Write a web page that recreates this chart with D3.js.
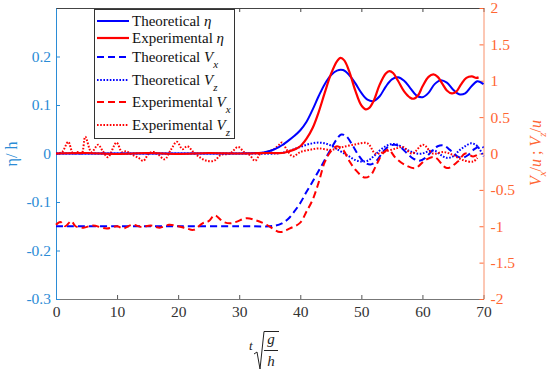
<!DOCTYPE html>
<html>
<head>
<meta charset="utf-8">
<script src="https://cdn.jsdelivr.net/npm/d3@7"></script>
<style>
  body { margin: 0; background: #fff; }
  svg, svg text, svg tspan { font-family: "Liberation Serif", Tinos, "Times New Roman", Times, "DejaVu Serif", serif !important; }
</style>
</head>
<body>
<svg id="chart" width="550" height="372"></svg>
<script>
// ---- data ----
const xTicks = [0, 10, 20, 30, 40, 50, 60, 70];
const leftTicks = [-0.3, -0.2, -0.1, 0, 0.1, 0.2];
const rightTicks = [-2, -1.5, -1, -0.5, 0, 0.5, 1, 1.5, 2];

// theoretical eta (left axis)
const theoEtaT = [0, 10, 20, 30, 33, 34, 35, 36, 37, 38, 39, 40, 41, 42, 43, 44, 45, 46, 47, 48, 49, 50, 51, 52, 53, 54, 55, 56, 57, 58, 59, 60, 61, 62, 63, 64, 65, 66, 67, 68, 69, 70];
const theoEta = [0, 0, 0, 0, 0.001, 0.002, 0.005, 0.01, 0.017, 0.026, 0.036, 0.048, 0.065, 0.09, 0.118, 0.143, 0.161, 0.171, 0.172, 0.162, 0.145, 0.125, 0.111, 0.108, 0.118, 0.138, 0.153, 0.157, 0.15, 0.135, 0.12, 0.116, 0.125, 0.143, 0.151, 0.146, 0.132, 0.122, 0.124, 0.138, 0.149, 0.143];

// experimental eta (left axis)
const expEtaT = [0, 5, 10, 15, 20, 25, 30, 35, 37, 38, 39, 40, 41, 42, 43, 44, 45, 46, 46.6, 47.2, 48, 49, 50, 50.7, 51.3, 52, 53, 54, 54.6, 55.2, 56, 57, 58, 58.6, 59.3, 60, 61, 61.8, 62.5, 63.3, 64, 64.8, 65.5, 66.3, 67.2, 68.1, 68.8, 69.2];
const expEta = [0, 0.001, -0.001, 0.001, -0.001, 0.001, 0, 0.001, 0.001, 0.004, 0.008, 0.015, 0.03, 0.052, 0.085, 0.125, 0.163, 0.19, 0.197, 0.192, 0.17, 0.13, 0.099, 0.091, 0.094, 0.108, 0.142, 0.165, 0.17, 0.166, 0.15, 0.128, 0.115, 0.113, 0.12, 0.138, 0.158, 0.163, 0.158, 0.143, 0.13, 0.124, 0.127, 0.142, 0.156, 0.159, 0.156, 0.157];

// theoretical Vx/u (right axis)
const theoVxT = [0, 10, 20, 30, 35, 36, 37, 38, 39, 40, 41, 42, 43, 44, 45, 46, 46.7, 47.5, 48.5, 49.5, 50.5, 51.5, 52.5, 53.5, 54.5, 55.5, 56.5, 57.5, 58.5, 59.5, 60.5, 61.5, 62.5, 63.5, 64.5, 65.5, 66.5, 67.5, 68.5, 69.5, 70];
const theoVx = [-1, -1, -1, -1, -1, -0.99, -0.96, -0.9, -0.8, -0.68, -0.53, -0.39, -0.24, -0.09, 0.06, 0.2, 0.26, 0.24, 0.12, -0.02, -0.12, -0.15, -0.1, 0.02, 0.1, 0.12, 0.08, 0, -0.07, -0.1, -0.06, 0.03, 0.1, 0.11, 0.05, -0.03, -0.06, -0.02, 0.06, 0.1, 0.08];

// theoretical Vz/u (right axis)
const theoVzT = [0, 10, 20, 30, 36, 37, 38, 39, 40, 41, 42, 43, 44, 45, 46, 47, 48, 49, 50, 51, 52, 53, 54, 55, 56, 57, 58, 59, 60, 61, 62, 63, 64, 65, 66, 67, 68, 69, 70];
const theoVz = [0, 0, 0, 0, 0, 0.01, 0.03, 0.06, 0.09, 0.12, 0.14, 0.15, 0.14, 0.11, 0.06, 0.01, -0.04, -0.09, -0.11, -0.1, -0.04, 0.04, 0.1, 0.13, 0.12, 0.07, 0.03, 0, 0, 0.03, 0.04, -0.02, -0.06, -0.04, 0.04, 0.1, 0.14, 0.1, -0.04];

// experimental Vx/u (right axis)
const expVxT = [0, 0.7, 1.5, 2.5, 3.2, 4.5, 6, 8.3, 10, 11, 12.5, 14, 15.5, 17, 18.5, 20, 21.4, 22.5, 24, 25, 26, 27.4, 28.5, 29.5, 31.2, 32.8, 34.5, 36.7, 38.3, 40, 41, 42, 43, 44, 45, 46, 47, 48, 49, 50.5, 51.5, 52.5, 53.5, 54.5, 55.5, 57, 58.8, 60.5, 62, 64, 65.8, 67, 68.3, 69];
const expVx = [-0.98, -0.94, -1.0, -0.93, -1.0, -1.02, -0.99, -1.03, -1.0, -1.03, -0.98, -1.01, -0.99, -1.02, -0.98, -1.0, -1.03, -1.05, -0.96, -0.93, -0.85, -0.94, -0.96, -0.94, -0.89, -0.92, -0.98, -1.08, -1.03, -0.95, -0.8, -0.64, -0.4, -0.12, 0.03, 0.1, 0.05, -0.1, -0.22, -0.33, -0.3, -0.15, 0, 0.05, -0.05, -0.15, -0.2, -0.09, -0.05, -0.2, -0.11, 0, -0.04, -0.02];

// experimental Vz/u (right axis)
const expVzT = [0, 1, 2, 2.8, 3.5, 4.2, 4.8, 5.8, 6.9, 7.6, 8.5, 9.9, 10.8, 11.5, 12.5, 13.5, 14.3, 15.2, 16, 16.8, 17.8, 18.8, 19.8, 20.7, 21.5, 22.5, 23.5, 24.7, 25.9, 27, 28.5, 29.8, 30.8, 31.7, 32.6, 33.5, 34.5, 35.5, 36.3, 37, 37.8, 38.8, 40, 41.5, 43, 45, 46.5, 48.7, 51, 52.3, 54, 55.7, 56.8, 58.3, 60.1, 61.7, 63.5, 65, 66.6, 68.3, 69];
const expVz = [0, 0.02, 0.16, 0, 0.02, 0, 0.23, 0.02, 0.12, 0.04, -0.05, 0.15, 0.02, 0.03, -0.02, -0.06, -0.1, 0, 0.02, -0.02, -0.08, 0.05, 0.16, 0.06, 0.1, 0.02, -0.05, -0.1, -0.1, -0.02, 0, 0.09, 0.02, -0.02, -0.1, 0, 0.02, 0.05, 0.1, 0.15, 0.05, -0.04, 0.02, 0.05, 0.07, 0.05, 0.08, 0.12, 0.14, 0, 0.03, 0.07, 0.09, 0, 0.12, 0, 0.02, -0.02, -0.09, -0.11, -0.06];

// ---- layout ----
const svg = d3.select("#chart"),
    width = +svg.attr("width"),
    height = +svg.attr("height");
const margin = {top: 8, right: 66.5, bottom: 73, left: 56};
const serif = "'Liberation Serif', Tinos, 'Times New Roman', Times, 'DejaVu Serif', serif";

const leftColor = "#2b8cd6",
    rightColor = "#ff6633";

const x = d3.scaleLinear().domain([0, 70]).range([margin.left, width - margin.right]);
const yL = d3.scaleLinear().domain([-0.3, 0.3]).range([height - margin.bottom, margin.top]);
const yR = d3.scaleLinear().domain([-2, 2]).range([height - margin.bottom, margin.top]);

// frame: bottom + top axes
const bottomAxis = svg.append("g")
    .attr("transform", `translate(0,${height - margin.bottom})`)
    .call(d3.axisBottom(x).tickValues(xTicks).tickSizeInner(-4).tickSizeOuter(0).tickPadding(7));
bottomAxis.select(".domain").attr("stroke", "#777");
bottomAxis.selectAll(".tick line").attr("stroke", "#555");
bottomAxis.selectAll("text").attr("fill", "#333").style("font-size", "15.5px");

const topAxis = svg.append("g")
    .attr("transform", `translate(0,${margin.top})`)
    .call(d3.axisTop(x).tickValues(xTicks).tickSizeInner(-4).tickSizeOuter(0).tickFormat(""));
topAxis.select(".domain").attr("stroke", "#444");
topAxis.selectAll(".tick line").attr("stroke", "#444");

// left axis
const leftAxis = svg.append("g")
    .attr("transform", `translate(${margin.left},0)`)
    .call(d3.axisLeft(yL).tickValues(leftTicks).tickSizeInner(-4).tickSizeOuter(0).tickPadding(5)
        .tickFormat(d => d === 0 ? "0" : String(d)));
leftAxis.select(".domain").attr("stroke", leftColor);
leftAxis.selectAll(".tick line").attr("stroke", leftColor);
leftAxis.selectAll("text").attr("fill", leftColor).style("font-size", "15.5px");

// right axis
const rightAxis = svg.append("g")
    .attr("transform", `translate(${width - margin.right},0)`)
    .call(d3.axisRight(yR).tickValues(rightTicks).tickSizeInner(-4).tickSizeOuter(0).tickPadding(7)
        .tickFormat(d => String(d)));
rightAxis.select(".domain").attr("stroke", "#f9906a");
rightAxis.selectAll(".tick line").attr("stroke", rightColor);
rightAxis.selectAll("text").attr("fill", rightColor).style("font-size", "15.5px");

svg.selectAll("g").attr("font-family", serif);

// ---- series ----
const series = [
    {name: "Theoretical", sym: "η", sub: null, t: theoEtaT, v: theoEta, y: yL, color: "#0000ff", dash: null, w: 2},
    {name: "Experimental", sym: "η", sub: null, t: expEtaT, v: expEta, y: yL, color: "#ff0000", dash: null, w: 2.2},
    {name: "Theoretical", sym: "V", sub: "x", t: theoVxT, v: theoVx, y: yR, color: "#0000ff", dash: "7,4", w: 2},
    {name: "Theoretical", sym: "V", sub: "z", t: theoVzT, v: theoVz, y: yR, color: "#0000ff", dash: "1.6,1.6", w: 2},
    {name: "Experimental", sym: "V", sub: "x", t: expVxT, v: expVx, y: yR, color: "#ff0000", dash: "7,4", w: 2},
    {name: "Experimental", sym: "V", sub: "z", t: expVzT, v: expVz, y: yR, color: "#ff0000", dash: "1.6,1.6", w: 2}
];

const plot = svg.append("g");
// draw velocities first, eta on top
[3, 2, 5, 4, 0, 1].forEach(i => {
    const s = series[i];
    const pts = s.t.map((t, k) => [t, s.v[k]]);
    const line = d3.line()
        .x(d => x(d[0]))
        .y(d => s.y(d[1]))
        .curve(d3.curveCatmullRom.alpha(0.5));
    plot.append("path")
        .datum(pts)
        .attr("fill", "none")
        .attr("stroke", s.color)
        .attr("stroke-width", s.w)
        .attr("stroke-dasharray", s.dash)
        .attr("d", line);
});

// ---- legend ----
const legendRows = [21, 38, 57, 80, 102, 125];
const legend = svg.append("g").attr("font-family", serif);
legend.append("rect")
    .attr("x", 94.5).attr("y", 9.5)
    .attr("width", 140).attr("height", 129)
    .attr("fill", "#fff").attr("stroke", "#333").attr("stroke-width", 1);

series.forEach((s, i) => {
    const ly = legendRows[i];
    legend.append("line")
        .attr("x1", 97).attr("x2", 129)
        .attr("y1", ly).attr("y2", ly)
        .attr("stroke", s.color)
        .attr("stroke-width", s.w)
        .attr("stroke-dasharray", s.dash);
    const txt = legend.append("text")
        .attr("x", 132).attr("y", ly + 5)
        .style("font-size", "15px")
        .attr("fill", "#111");
    txt.append("tspan").text(s.name + "  ");
    txt.append("tspan").attr("font-style", "italic").text(s.sym);
    if (s.sub) {
        txt.append("tspan").attr("font-style", "italic").attr("dy", 6)
            .style("font-size", "11px").text(s.sub);
    }
});

// ---- axis titles ----
// left: eta / h
svg.append("text")
    .attr("transform", "translate(17,154) rotate(-90)")
    .attr("text-anchor", "middle")
    .attr("fill", leftColor)
    .attr("font-family", serif)
    .style("font-size", "16px")
    .text("η/ h");

// right: Vx/u ; Vz/u
const rt = svg.append("text")
    .attr("transform", "translate(541,153) rotate(-90)")
    .attr("text-anchor", "middle")
    .attr("fill", rightColor)
    .attr("font-family", serif)
    .style("font-size", "16px");
rt.append("tspan").attr("font-style", "italic").text("V");
rt.append("tspan").attr("font-style", "italic").attr("dy", 5).style("font-size", "11px").text("x");
rt.append("tspan").attr("dy", -5).text("/");
rt.append("tspan").attr("font-style", "italic").text("u");
rt.append("tspan").text(" ;  ");
rt.append("tspan").attr("font-style", "italic").text("V");
rt.append("tspan").attr("font-style", "italic").attr("dy", 5).style("font-size", "11px").text("z");
rt.append("tspan").attr("dy", -5).text("/");
rt.append("tspan").attr("font-style", "italic").text("u");

// bottom: t * sqrt(g/h)
const xl = svg.append("g").attr("fill", "#222").attr("font-family", serif);
xl.append("text").attr("x", 249).attr("y", 350)
    .style("font-size", "13px").attr("font-style", "italic").text("t");
xl.append("path")
    .attr("d", "M254,354 L257,352 L260,369 L264,331.5 L279,331.5")
    .attr("fill", "none").attr("stroke", "#222").attr("stroke-width", 1);
xl.append("text").attr("x", 271).attr("y", 344).attr("text-anchor", "middle")
    .style("font-size", "15px").attr("font-style", "italic").text("g");
xl.append("line").attr("x1", 264).attr("x2", 278).attr("y1", 350.5).attr("y2", 350.5)
    .attr("stroke", "#222").attr("stroke-width", 1);
xl.append("text").attr("x", 271).attr("y", 366).attr("text-anchor", "middle")
    .style("font-size", "15px").attr("font-style", "italic").text("h");
</script>
</body>
</html>
